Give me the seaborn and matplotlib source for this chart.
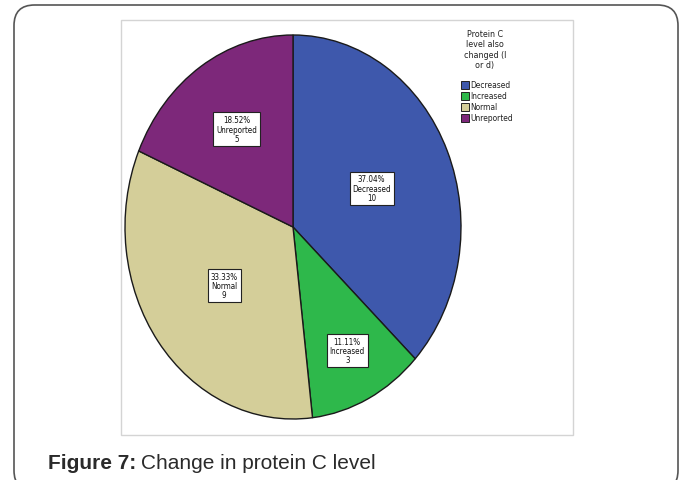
import matplotlib
matplotlib.use("Agg")
import matplotlib.pyplot as plt
from matplotlib.patches import FancyBboxPatch, Rectangle
import numpy as np
import seaborn as sns

sns.set_theme(style="white")
plt.rcParams["font.family"] = ["DejaVu Sans"]
plt.rcParams["font.stretch"] = "condensed"

categories = ["Decreased", "Increased", "Normal", "Unreported"]
counts = [10, 3, 9, 5]
percent_labels = ["37.04%", "11.11%", "33.33%", "18.52%"]
colors = ["#3E58AC", "#2EB84B", "#D4CE99", "#7D287A"]
label_radius = [0.51, 0.72, 0.51, 0.61]
legend_title = "Protein C\nlevel also\nchanged (I\nor d)"
caption_bold = "Figure 7:"
caption_text = "Change in protein C level"

W, H = 685, 481
fig = plt.figure(figsize=(W / 100, H / 100), dpi=100)
fig.patch.set_facecolor("white")


def fx(x):
    return x / W


def fy(y):
    return 1 - y / H


# outer rounded panel
outer = FancyBboxPatch((fx(14), fy(492)), fx(664), (492 - 6) / H,
                       boxstyle="round,pad=0,rounding_size=0.03",
                       transform=fig.transFigure, facecolor="white",
                       edgecolor="#555555", linewidth=1.2, mutation_aspect=W / H,
                       zorder=-2)
fig.patches.append(outer)

# inner chart frame
frame = Rectangle((fx(121), fy(436)), fx(573 - 121), (436 - 21) / H,
                  transform=fig.transFigure, facecolor="white",
                  edgecolor="#D4D4D4", linewidth=1.0, zorder=-1)
fig.patches.append(frame)

# pie axes (elliptical pie, stretched vertically)
ax = fig.add_axes([fx(125), fy(420), fx(336), (420 - 36) / H])
ax.set_zorder(2)
ax.patch.set_alpha(0)
ax.axis("off")

wedges, _ = ax.pie(counts, colors=colors, startangle=90, counterclock=False,
                   radius=1.0, wedgeprops=dict(edgecolor="#1a1a1a", linewidth=1.0))
ax.set_xlim(-1, 1)
ax.set_ylim(-1, 1)
ax.set_aspect("auto")

for w, pct, cat, n, r in zip(wedges, percent_labels, categories, counts, label_radius):
    mid = np.deg2rad((w.theta1 + w.theta2) / 2)
    ax.text(r * np.cos(mid), r * np.sin(mid), f"{pct}\n{cat}\n{n}",
            ha="center", va="center", fontsize=5.8, color="#111111",
            linespacing=1.05,
            bbox=dict(boxstyle="square,pad=0.35", facecolor="white",
                      edgecolor="#222222", linewidth=0.8))

# legend
fig.text(fx(485), fy(30), legend_title, ha="center", va="top", fontsize=6.4,
         color="#222222", linespacing=1.2)
for i, (cat, c) in enumerate(zip(categories, colors)):
    yc = 85.5 + i * 11.1
    fig.patches.append(Rectangle((fx(461), fy(yc + 4)), fx(8), 8 / H,
                                 transform=fig.transFigure, facecolor=c,
                                 edgecolor="#222222", linewidth=0.7, zorder=3))
    fig.text(fx(470), fy(yc), cat, ha="left", va="center", fontsize=6.0,
             color="#222222")

# caption
t1 = fig.text(fx(48), fy(469), caption_bold, ha="left", va="baseline",
              fontsize=15, fontweight="bold", color="#2a2a2a",
              family=["Liberation Sans"], fontstretch="normal")
fig.canvas.draw()
bb = t1.get_window_extent()
fig.text(bb.x1 / W + fx(5), fy(469), caption_text, ha="left", va="baseline",
         fontsize=15, color="#2a2a2a", family=["Liberation Sans"],
         fontstretch="normal")

fig.savefig("out.png", dpi=100, facecolor="white")
